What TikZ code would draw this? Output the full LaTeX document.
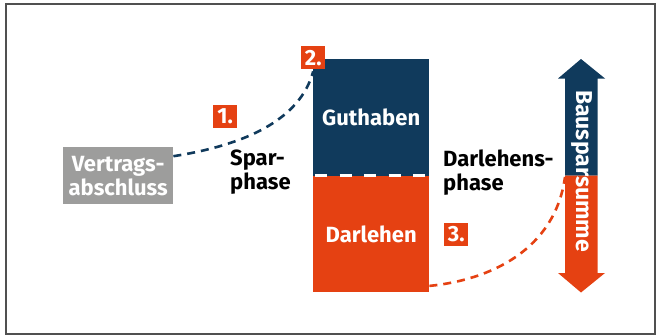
\documentclass[tikz,border=0pt]{standalone}
\usepackage{fontspec}
\setmainfont{Fira Sans}
\definecolor{navy}{RGB}{16,58,92}
\definecolor{rust}{RGB}{229,65,18}
\definecolor{boxgray}{RGB}{157,157,156}
\definecolor{framegray}{RGB}{80,80,80}
\begin{document}
\begin{tikzpicture}[x=1pt,y=-1pt,
  lbl/.style={font=\fontsize{22}{24}\selectfont\bfseries},
  block/.style={lbl,text=white,inner sep=0pt,minimum width=116pt,minimum height=116.5pt,anchor=north west},
  numbox/.style={lbl,fill=rust,text=white,inner sep=0pt,minimum width=24pt,minimum height=23pt,anchor=north west},
  phase/.style={lbl,text=black,align=left,inner sep=0pt,anchor=north west},
  curve/.style={line width=2.6pt,dash pattern=on 8pt off 6pt}
]
\useasboundingbox (0,0) rectangle (656,335);
\fill[white] (0,0) rectangle (656,335);
\draw[framegray,line width=1.4pt] (6,4) rectangle (655,334);

% central column
\node[block,fill=navy] (guth) at (313,59) {Guthaben};
\node[block,fill=rust] (darl) at (313,175.5) {Darlehen};
\draw[white,line width=3pt,dash pattern=on 12pt off 12.5pt,dash phase=22.5pt]
  (guth.south west) -- (guth.south east);

% contract box
\node[lbl,fill=boxgray,text=white,align=center,inner sep=0pt,minimum width=110pt,minimum height=57pt,anchor=north west] (vert) at (63,147) {Vertrags-\\abschluss};

% phase labels
\node[phase] (spar) at (230,150) {Spar-\\phase};
\node[phase] (dphase) at (443,150) {Darlehens-\\phase};

% number labels
\node[numbox] (n1) at (213,105) {1.};
\node[numbox] (n2) at (301,46) {2.};
\node[numbox] (n3) at (444,222.5) {3.};

% double arrow (Bausparsumme)
\fill[navy] (581,59) -- (605,78.5) -- (597.5,78.5) -- (597.5,175.5) -- (565,175.5) -- (565,78.5) -- (558,78.5) -- cycle;
\fill[rust] (565,175.5) -- (597.5,175.5) -- (597.5,273) -- (605,273) -- (581,292.5) -- (558,273) -- (565,273) -- cycle;
\node[font=\fontsize{23}{26}\selectfont\bfseries,text=white,rotate=-90,inner sep=0pt] (bsum) at (582,171) {Bausparsumme};
\coordinate (amid) at (565,177);

% dashed curves
\draw[curve,navy] ([yshift=19.5pt]vert.east) .. controls (245,145) and (300,120) .. ([yshift=-2pt]n2.south);
\draw[curve,rust] ([yshift=6.5pt]darl.south east) .. controls (490,280) and (555,250) .. (amid);
\end{tikzpicture}
\end{document}
